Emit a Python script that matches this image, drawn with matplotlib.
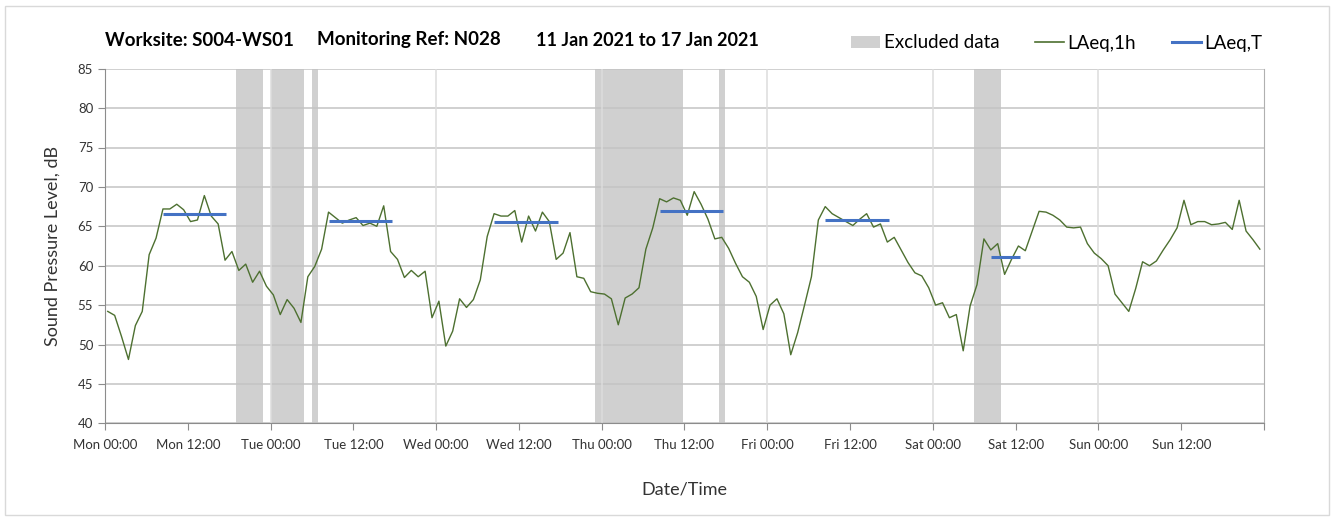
import numpy as np
import matplotlib
matplotlib.use("Agg")
from matplotlib import pyplot as plt
from matplotlib.patches import Patch, Rectangle
from matplotlib.lines import Line2D

# hourly LAeq,1h readings, Mon 00:00 -> Sun 23:00 (168 values)
laeq_1h = [
    54.2, 53.7, 51.0, 48.1, 52.4, 54.2, 61.4, 63.5, 67.2, 67.2,
    67.8, 67.1, 65.6, 65.8, 68.9, 66.3, 65.3, 60.7, 61.8, 59.4,
    60.2, 57.9, 59.3, 57.4, 56.3, 53.8, 55.7, 54.6, 52.8, 58.6,
    59.9, 62.1, 66.8, 66.1, 65.4, 65.8, 66.1, 65.1, 65.4, 65.0,
    67.6, 61.8, 60.8, 58.5, 59.4, 58.6, 59.3, 53.4, 55.5, 49.8,
    51.7, 55.8, 54.7, 55.7, 58.2, 63.7, 66.6, 66.3, 66.3, 67.0,
    63.0, 66.3, 64.4, 66.8, 65.6, 60.8, 61.6, 64.2, 58.6, 58.4,
    56.7, 56.5, 56.4, 55.8, 52.5, 55.9, 56.4, 57.2, 62.1, 64.8,
    68.5, 68.1, 68.6, 68.3, 66.4, 69.4, 67.8, 65.9, 63.4, 63.6,
    62.2, 60.3, 58.6, 57.9, 56.1, 51.9, 55.0, 55.8, 53.9, 48.7,
    51.5, 55.0, 58.6, 65.8, 67.5, 66.6, 66.1, 65.6, 65.1, 65.9,
    66.6, 64.9, 65.3, 63.0, 63.6, 62.0, 60.4, 59.1, 58.7, 57.2,
    55.0, 55.3, 53.4, 53.8, 49.2, 54.9, 57.6, 63.4, 62.0, 62.8,
    58.9, 60.8, 62.5, 61.9, 64.4, 66.9, 66.8, 66.4, 65.8, 64.9,
    64.8, 64.9, 62.8, 61.6, 60.9, 60.0, 56.4, 55.3, 54.2, 57.1,
    60.5, 60.0, 60.6, 62.0, 63.3, 64.8, 68.3, 65.2, 65.6, 65.6,
    65.2, 65.3, 65.5, 64.6, 68.3, 64.4, 63.3, 62.1,
]

# LAeq,T over the working periods (hours from Mon 00:00)
period_start = [8, 32, 56, 80, 104, 128]
period_end = [18, 42, 66, 90, 114, 133]
laeq_t = [66.6, 65.7, 65.6, 67.0, 65.8, 61.1]

# excluded data periods (hours from Mon 00:00)
excl_start = [19, 24, 30, 71, 89, 126]
excl_end = [23, 29, 31, 84, 90, 130]

tick_labels = ["Mon 00:00", "Mon 12:00", "Tue 00:00", "Tue 12:00",
               "Wed 00:00", "Wed 12:00", "Thu 00:00", "Thu 12:00",
               "Fri 00:00", "Fri 12:00", "Sat 00:00", "Sat 12:00",
               "Sun 00:00", "Sun 12:00"]

plt.rcParams['font.family'] = ['Lato', 'DejaVu Sans']

GREEN = '#4d7030'
BLUE = '#4472c4'
GREY = '#d0d0d0'

fig = plt.figure(figsize=(13.36, 5.21), dpi=100)
ax = fig.add_axes([105 / 1336, 1 - 423.3 / 521, 1159 / 1336, 354.6 / 521])

# chart area border
fig.patches.append(Rectangle((5 / 1336, 6 / 521), 1324 / 1336, 509 / 521,
                             transform=fig.transFigure, fill=False,
                             edgecolor='#d9d9d9', linewidth=1))

hours = np.arange(len(laeq_1h)) + 0.4

for s, e in zip(excl_start, excl_end):
    ax.axvspan(s, e - 0.15, color=GREY, linewidth=0, zorder=0)

ax.plot(hours, laeq_1h, color=GREEN, linewidth=1.0, zorder=3)

for s, e, v in zip(period_start, period_end, laeq_t):
    ax.plot([s + 0.4, e - 0.4], [v, v], color=BLUE, linewidth=2.2,
            solid_capstyle='butt', zorder=4)

# gridlines: horizontal every 5 dB, vertical at midnight
ax.set_axisbelow(True)
ax.yaxis.grid(True, color='#c4c4c4', linewidth=1.1)
for d in range(24, 168, 24):
    ax.axvline(d, color='#dcdcdc', linewidth=1.1, zorder=0.6)

ax.set_xlim(0, 168)
ax.set_ylim(40, 85)
ax.set_yticks(range(40, 86, 5))
ax.set_xticks(range(0, 169, 12))
ax.set_xticklabels(tick_labels + [""])

ax.tick_params(axis='both', direction='out', length=5, color='#8c8c8c',
               labelsize=9.5, labelcolor='#333333')
ax.tick_params(axis='x', pad=6)

for side in ['left', 'bottom']:
    ax.spines[side].set_color('#8c8c8c')
ax.spines['top'].set_visible(False)
ax.spines['right'].set_color('#b0b0b0')

ax.set_ylabel("Sound Pressure Level, dB", fontsize=13, color='#333333',
              labelpad=12)
ax.set_xlabel("Date/Time", fontsize=13, color='#333333', labelpad=22)

# title pieces
ty = 1 - 40 / 521
fig.text(105 / 1336, ty, "Worksite: S004-WS01", fontsize=13.5,
         fontweight='bold', va='center')
fig.text(317 / 1336, ty, "Monitoring Ref: N028", fontsize=13.5,
         fontweight='bold', va='center')
fig.text(536 / 1336, ty, "11 Jan 2021 to 17 Jan 2021", fontsize=13,
         fontweight='bold', va='center')

handles = [Patch(facecolor=GREY, edgecolor='none'),
           Line2D([], [], color=GREEN, linewidth=1.2),
           Line2D([], [], color=BLUE, linewidth=2.2)]
fig.legend(handles, ["Excluded data", "LAeq,1h", "LAeq,T"], ncol=3,
           loc='center left', bbox_to_anchor=(842 / 1336, 1 - 43 / 521),
           frameon=False, fontsize=13.5, handlelength=1.55, handleheight=0.55,
           handletextpad=0.18, columnspacing=1.9, borderpad=0)

fig.savefig("out.png", dpi=100)
